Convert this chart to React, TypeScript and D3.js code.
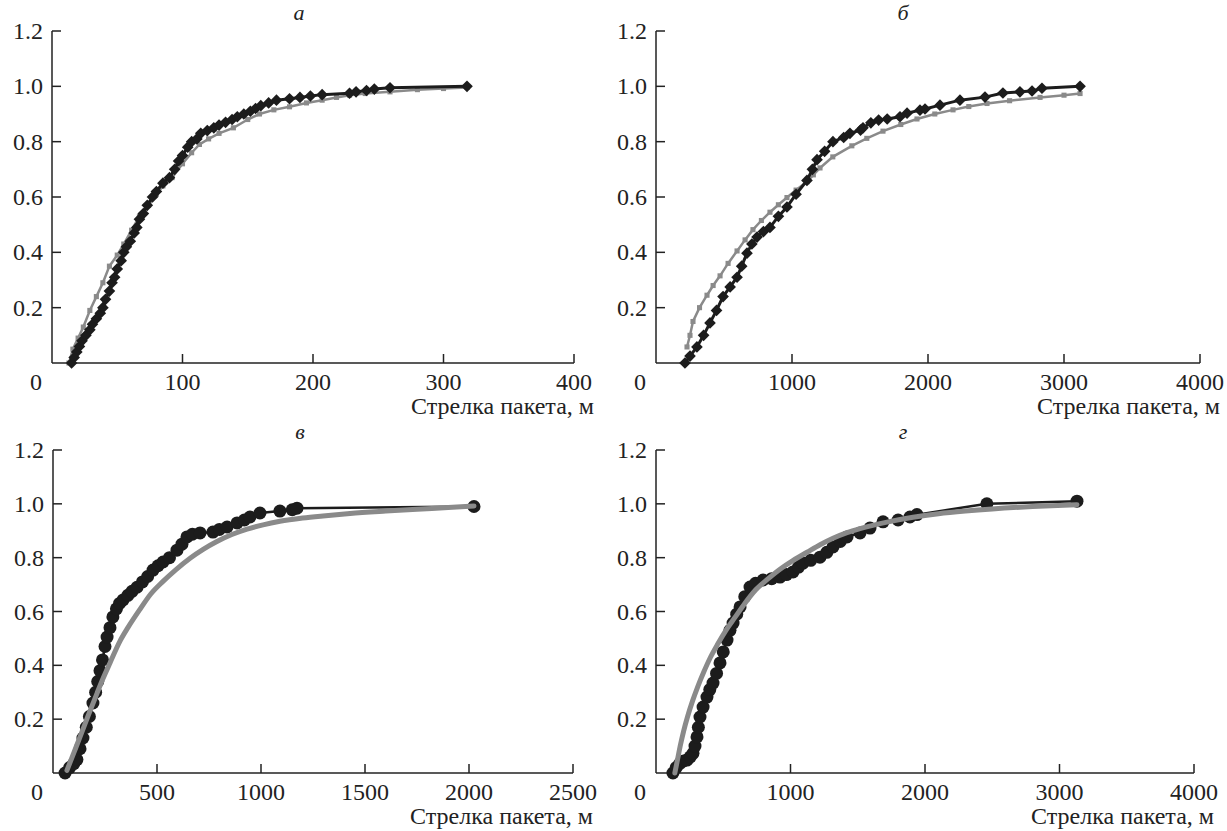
import { useRef, useEffect } from 'react';
import * as d3 from 'd3';

// panel а
const aBlackX = [15, 17, 19, 21, 23, 26, 29, 31, 34, 37, 39, 41, 44, 46, 48, 50, 53, 55, 57, 60, 63, 65, 67, 70, 73, 77, 80, 85, 90, 94, 97, 100, 104, 107, 111, 114, 119, 124, 128, 133, 138, 142, 147, 152, 156, 160, 166, 172, 182, 190, 198, 207, 228, 233, 241, 247, 259, 318];
const aBlackY = [0, 0.02, 0.04, 0.06, 0.08, 0.1, 0.12, 0.14, 0.16, 0.18, 0.2, 0.23, 0.26, 0.29, 0.31, 0.34, 0.37, 0.4, 0.42, 0.44, 0.47, 0.49, 0.52, 0.54, 0.57, 0.6, 0.62, 0.65, 0.67, 0.7, 0.73, 0.75, 0.78, 0.8, 0.81, 0.83, 0.84, 0.85, 0.86, 0.87, 0.88, 0.89, 0.9, 0.91, 0.92, 0.93, 0.94, 0.95, 0.955, 0.96, 0.965, 0.97, 0.975, 0.98, 0.985, 0.99, 0.995, 1.0];
const aGrayX = [13, 16, 20, 24, 29, 34, 39, 44, 50, 55, 61, 67, 74, 80, 85, 92, 100, 107, 113, 120, 128, 139, 150, 159, 170, 182, 195, 207, 218, 228, 240, 259, 280, 300, 318];
const aGrayY = [0, 0.05, 0.09, 0.13, 0.19, 0.24, 0.29, 0.35, 0.39, 0.43, 0.48, 0.53, 0.57, 0.61, 0.64, 0.67, 0.72, 0.76, 0.79, 0.81, 0.83, 0.85, 0.88, 0.9, 0.915, 0.926, 0.94, 0.95, 0.96, 0.968, 0.974, 0.98, 0.988, 0.992, 0.996];

// panel б
const bBlackX = [213, 250, 301, 350, 397, 445, 493, 545, 596, 630, 669, 705, 743, 790, 838, 900, 963, 1030, 1110, 1150, 1184, 1240, 1301, 1380, 1426, 1504, 1522, 1580, 1637, 1700, 1794, 1846, 1941, 1978, 2088, 2235, 2419, 2551, 2676, 2765, 2838, 3118];
const bBlackY = [0, 0.025, 0.058, 0.1, 0.145, 0.19, 0.24, 0.275, 0.31, 0.35, 0.397, 0.43, 0.455, 0.475, 0.49, 0.53, 0.564, 0.61, 0.66, 0.7, 0.735, 0.765, 0.8, 0.815, 0.83, 0.842, 0.85, 0.868, 0.878, 0.882, 0.89, 0.903, 0.914, 0.918, 0.932, 0.95, 0.961, 0.976, 0.98, 0.983, 0.993, 1.0];
const bGrayX = [228, 250, 272, 320, 375, 420, 471, 530, 596, 655, 713, 775, 838, 900, 963, 1030, 1110, 1157, 1206, 1300, 1440, 1550, 1669, 1800, 1919, 2050, 2184, 2300, 2434, 2600, 2824, 3000, 3118];
const bGrayY = [0.058, 0.1, 0.15, 0.2, 0.245, 0.28, 0.315, 0.36, 0.405, 0.445, 0.482, 0.515, 0.545, 0.572, 0.598, 0.625, 0.655, 0.68, 0.705, 0.745, 0.785, 0.812, 0.838, 0.862, 0.882, 0.9, 0.915, 0.927, 0.938, 0.948, 0.96, 0.968, 0.974];

// panel в
const cBlackX = [58, 80, 100, 115, 130, 144, 160, 175, 192, 205, 215, 226, 238, 250, 260, 274, 288, 305, 320, 337, 360, 380, 404, 430, 455, 481, 505, 529, 560, 596, 620, 644, 670, 707, 769, 800, 837, 885, 920, 947, 995, 1091, 1150, 1173, 2024];
const cBlackY = [0, 0.02, 0.035, 0.05, 0.09, 0.13, 0.17, 0.21, 0.26, 0.3, 0.34, 0.38, 0.42, 0.47, 0.505, 0.54, 0.58, 0.61, 0.63, 0.643, 0.66, 0.675, 0.69, 0.71, 0.73, 0.754, 0.77, 0.784, 0.8, 0.828, 0.85, 0.877, 0.887, 0.892, 0.895, 0.905, 0.914, 0.929, 0.94, 0.951, 0.966, 0.973, 0.978, 0.984, 0.99];
const cGrayX = [67, 100, 130, 170, 212, 240, 274, 322, 360, 418, 470, 529, 590, 659, 720, 788, 860, 933, 1010, 1091, 1200, 1298, 1428, 1600, 1750, 1900, 2024];
const cGrayY = [0.01, 0.075, 0.134, 0.215, 0.297, 0.35, 0.409, 0.49, 0.54, 0.608, 0.665, 0.712, 0.755, 0.798, 0.83, 0.86, 0.886, 0.906, 0.922, 0.935, 0.947, 0.955, 0.964, 0.973, 0.98, 0.986, 0.992];

// panel г
const dBlackX = [126, 150, 178, 205, 230, 255, 275, 290, 305, 315, 327, 350, 379, 400, 424, 450, 476, 500, 528, 550, 573, 600, 625, 660, 699, 740, 796, 860, 922, 970, 1019, 1060, 1093, 1150, 1219, 1270, 1316, 1370, 1420, 1517, 1591, 1688, 1800, 1888, 1940, 2460, 3130];
const dBlackY = [0, 0.02, 0.036, 0.045, 0.048, 0.06, 0.073, 0.1, 0.134, 0.17, 0.208, 0.245, 0.282, 0.31, 0.334, 0.37, 0.409, 0.45, 0.494, 0.53, 0.557, 0.59, 0.617, 0.655, 0.691, 0.705, 0.717, 0.722, 0.728, 0.737, 0.747, 0.765, 0.78, 0.79, 0.802, 0.82, 0.84, 0.86, 0.877, 0.892, 0.91, 0.933, 0.94, 0.951, 0.96, 1.0, 1.01];
const dGrayX = [140, 160, 180, 205, 235, 270, 310, 355, 405, 460, 520, 590, 660, 740, 830, 922, 1020, 1123, 1220, 1316, 1420, 1517, 1717, 1911, 2100, 2300, 2500, 2800, 3130];
const dGrayY = [0, 0.05, 0.1, 0.155, 0.21, 0.265, 0.32, 0.375, 0.43, 0.48, 0.53, 0.58, 0.63, 0.68, 0.72, 0.757, 0.79, 0.82, 0.848, 0.872, 0.893, 0.908, 0.932, 0.95, 0.963, 0.973, 0.981, 0.99, 0.997];

const yTicks = [0.2, 0.4, 0.6, 0.8, 1.0, 1.2];
const xLabel = 'Стрелка пакета, м';

const panels = [
  { letter: 'а', bx: aBlackX, by: aBlackY, gx: aGrayX, gy: aGrayY, xMax: 400, xTicks: [100, 200, 300, 400], left: 52, right: 574, top: 31, bottom: 363, kind: 'diamond' },
  { letter: 'б', bx: bBlackX, by: bBlackY, gx: bGrayX, gy: bGrayY, xMax: 4000, xTicks: [1000, 2000, 3000, 4000], left: 656, right: 1200, top: 31, bottom: 363, kind: 'diamond' },
  { letter: 'в', bx: cBlackX, by: cBlackY, gx: cGrayX, gy: cGrayY, xMax: 2500, xTicks: [500, 1000, 1500, 2000, 2500], left: 53, right: 573, top: 450, bottom: 773, kind: 'circle' },
  { letter: 'г', bx: dBlackX, by: dBlackY, gx: dGrayX, gy: dGrayY, xMax: 4000, xTicks: [1000, 2000, 3000, 4000], left: 656, right: 1194, top: 450, bottom: 773, kind: 'circle' },
];

const BLACK = '#1c1c1c';
const GRAY = '#8a8a8a';
const FONT = "'Liberation Serif', 'Times New Roman', Tinos, 'DejaVu Serif', serif";

export default function App() {
  const ref = useRef<SVGSVGElement>(null);

  useEffect(() => {
    const svg = d3.select(ref.current);
    svg.selectAll('*').remove();

    const txt = (g: any, x: number, y: number, s: string, anchor: string) =>
      g.append('text').attr('x', x).attr('y', y).attr('text-anchor', anchor)
        .style('font-family', FONT).style('font-size', '24px').attr('fill', '#222').text(s);

    panels.forEach(p => {
      const x = d3.scaleLinear().domain([0, p.xMax]).range([p.left, p.right]);
      const y = d3.scaleLinear().domain([0, 1.2]).range([p.bottom, p.top]);
      const g = svg.append('g');

      const black = p.bx.map((v, i) => [v, p.by[i]] as [number, number]);
      const gray = p.gx.map((v, i) => [v, p.gy[i]] as [number, number]);
      const line = d3.line<[number, number]>().x(d => x(d[0])).y(d => y(d[1]));

      // axes, ticks pointing inward
      g.append('line').attr('x1', p.left).attr('x2', p.left).attr('y1', p.bottom).attr('y2', p.top)
        .attr('stroke', '#222').attr('stroke-width', 1.5);
      g.append('line').attr('x1', p.left).attr('x2', p.right).attr('y1', p.bottom).attr('y2', p.bottom)
        .attr('stroke', '#222').attr('stroke-width', 1.5);

      yTicks.forEach(t => {
        g.append('line').attr('x1', p.left).attr('x2', p.left + 9).attr('y1', y(t)).attr('y2', y(t))
          .attr('stroke', '#222').attr('stroke-width', 1.5);
        txt(g, p.left - 9, y(t) + 8, t.toFixed(1), 'end');
      });

      p.xTicks.forEach(t => {
        g.append('line').attr('x1', x(t)).attr('x2', x(t)).attr('y1', p.bottom).attr('y2', p.bottom - 9)
          .attr('stroke', '#222').attr('stroke-width', 1.5);
        txt(g, x(t), p.bottom + 27, String(t), 'middle');
      });
      txt(g, p.left - 16, p.bottom + 27, '0', 'middle');
      txt(g, p.right + 20, p.bottom + 51, xLabel, 'end');

      txt(g, p.left + 247, p.top - 11, p.letter, 'middle')
        .style('font-style', 'italic').style('font-size', '22px');

      if (p.kind === 'diamond') {
        // gray model curve with small squares, then black data with diamonds
        g.append('path').datum(gray).attr('d', line).attr('fill', 'none')
          .attr('stroke', GRAY).attr('stroke-width', 2.5);
        g.selectAll('.sq').data(gray).enter().append('path')
          .attr('d', d3.symbol(d3.symbolSquare, 26)())
          .attr('transform', d => `translate(${x(d[0])},${y(d[1])})`)
          .attr('fill', GRAY);
        g.append('path').datum(black).attr('d', line).attr('fill', 'none')
          .attr('stroke', BLACK).attr('stroke-width', 3);
        g.selectAll('.dm').data(black).enter().append('path')
          .attr('d', d3.symbol(d3.symbolSquare, 68)())
          .attr('transform', d => `translate(${x(d[0])},${y(d[1])}) rotate(45)`)
          .attr('fill', BLACK);
      } else {
        g.append('path').datum(black).attr('d', line).attr('fill', 'none')
          .attr('stroke', BLACK).attr('stroke-width', 2.5);
        g.selectAll('.ci').data(black).enter().append('circle')
          .attr('cx', d => x(d[0])).attr('cy', d => y(d[1])).attr('r', 6.5)
          .attr('fill', BLACK);
        g.append('path').datum(gray).attr('d', line.curve(d3.curveMonotoneX)).attr('fill', 'none')
          .attr('stroke', GRAY).attr('stroke-width', 5).attr('stroke-linecap', 'round');
      }
    });
  }, []);

  return (
    <svg ref={ref} width={1227} height={831}
      style={{ position: 'absolute', left: 0, top: 0, background: '#fff' }} />
  );
}
